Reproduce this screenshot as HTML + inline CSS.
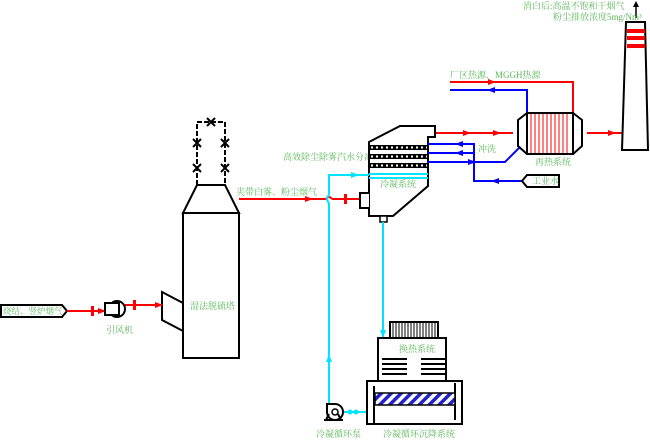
<!DOCTYPE html>
<html><head><meta charset="utf-8"><style>
html,body{margin:0;padding:0;background:#fff}
svg{display:block}
text{font-family:"Liberation Serif","Noto Serif CJK SC",serif;font-size:9px;fill:#5cb85c}
</style></head><body>
<svg width="650" height="440" viewBox="0 0 650 440" xmlns="http://www.w3.org/2000/svg">
<defs>
<marker id="ar" markerWidth="8" markerHeight="6" refX="7" refY="3" orient="auto" markerUnits="userSpaceOnUse"><path d="M0,0 L8,3 L0,6 Z" fill="red"/></marker>
<marker id="ab" markerWidth="8" markerHeight="6" refX="7" refY="3" orient="auto" markerUnits="userSpaceOnUse"><path d="M0,0 L8,3 L0,6 Z" fill="blue"/></marker>
<marker id="ac" markerWidth="8" markerHeight="6" refX="7" refY="3" orient="auto" markerUnits="userSpaceOnUse"><path d="M0,0 L8,3 L0,6 Z" fill="#00e5ff"/></marker>
<pattern id="hatch" width="7" height="7" patternUnits="userSpaceOnUse" patternTransform="rotate(45)"><rect width="7" height="7" fill="#fff"/><rect width="3.5" height="7" fill="#2222cc"/></pattern>
</defs>
<g stroke="#000" stroke-width="2" fill="none">
<!-- tower -->
<rect x="183" y="213" width="56" height="145" fill="#fff"/>
<path d="M197,185 L225,185 L239,213 L183,213 Z"/>
<path d="M162,292 L183,303 L183,331 L162,320 Z"/>
<path d="M197,185 V122 H225 V185" stroke-dasharray="5,2"/>
</g>
<g stroke="#000" stroke-width="2">
<path d="M193,139 l8,8 M201,139 l-8,8 M193,164 l8,8 M201,164 l-8,8 M221,139 l8,8 M229,139 l-8,8 M221,164 l8,8 M229,164 l-8,8 M207,118 l8,8 M215,118 l-8,8"/>
</g>
<!-- inlet label -->
<path d="M1,305 H62 L67,311 L62,317 H1 Z" fill="#fff" stroke="#000" stroke-width="2"/>
<text x="3" y="314" style="font-size:8.5px">烧结、竖炉烟气</text>
<g stroke="red" stroke-width="2">
<line x1="67" y1="311" x2="105" y2="311" marker-end="url(#ar)"/>
<line x1="125" y1="305" x2="162" y2="305" marker-end="url(#ar)"/>
<line x1="239" y1="199" x2="326" y2="199"/>
<line x1="332" y1="199" x2="360" y2="199"/>
<line x1="280" y1="199" x2="312" y2="199" marker-end="url(#ar)"/>
<line x1="435" y1="133" x2="513" y2="133"/>
<line x1="440" y1="133" x2="470" y2="133" marker-end="url(#ar)"/>
<line x1="470" y1="133" x2="500" y2="133" marker-end="url(#ar)"/>
<line x1="587" y1="133" x2="622" y2="133"/>
<line x1="587" y1="133" x2="615" y2="133" marker-end="url(#ar)"/>
<path d="M450,82 H573 V113" fill="none"/>
<line x1="450" y1="82" x2="495" y2="82" marker-end="url(#ar)"/>
</g>
<path d="M326,199 q3,-4 6,0" stroke="red" stroke-width="2" fill="none"/>
<g fill="red"><rect x="91" y="306" width="3" height="10"/><rect x="133" y="300" width="3" height="10"/><rect x="344" y="194" width="3" height="10"/></g>
<!-- fan -->
<g stroke="#000" stroke-width="2" fill="#fff">
<circle cx="117" cy="309" r="8"/><rect x="105" y="303" width="14" height="12"/>
</g>
<text x="106" y="333">引风机</text>
<text x="190" y="309">湿法脱硫塔</text>
<text x="236" y="195">夹带白雾、粉尘烟气</text>
<text x="283" y="160">高效除尘除雾汽水分离</text>
<!-- separator -->
<path d="M369,142 L400,126 H435 V137 H428 V186 L393,216 H369 Z" fill="#fff" stroke="#000" stroke-width="2"/>
<path d="M369,193 H360 V208 H369" fill="#fff" stroke="#000" stroke-width="2"/>
<rect x="380" y="216" width="7" height="6" fill="#fff" stroke="#000" stroke-width="1.5"/>
<g fill="#000">
<rect x="369" y="145" width="59" height="5"/><rect x="369" y="154" width="59" height="5"/><rect x="369" y="163" width="59" height="5"/>
</g>
<g stroke="#fff" stroke-width="2" stroke-dasharray="2,3">
<line x1="371" y1="147.5" x2="427" y2="147.5"/><line x1="371" y1="156.5" x2="427" y2="156.5"/><line x1="371" y1="165.5" x2="427" y2="165.5"/>
</g>
<text x="380" y="187">冷凝系统</text>
<!-- cyan -->
<g stroke="#00e5ff" stroke-width="2" fill="none">
<path d="M329,195 V175 H369"/>
<line x1="329" y1="175" x2="358" y2="175" marker-end="url(#ac)"/>
<line x1="369" y1="174" x2="428" y2="174"/><line x1="369" y1="178" x2="428" y2="178"/>
<path d="M329,203 V405"/>
<line x1="329" y1="380" x2="329" y2="355" marker-end="url(#ac)"/>
<line x1="383" y1="222" x2="383" y2="337" marker-end="url(#ac)"/>
<line x1="340" y1="412" x2="367" y2="412"/>
</g>
<path d="M329,195 q-4,4 0,8" stroke="#00e5ff" stroke-width="2" fill="none"/>
<!-- blue -->
<g stroke="blue" stroke-width="2" fill="none">
<path d="M527,113 V90 H450"/>
<line x1="527" y1="90" x2="488" y2="90" marker-end="url(#ab)"/>
<path d="M428,144 H474 V181 H522"/>
<line x1="474" y1="144" x2="456" y2="144" marker-end="url(#ab)"/>
<line x1="428" y1="153" x2="474" y2="153"/>
<line x1="474" y1="153" x2="456" y2="153" marker-end="url(#ab)"/>
<path d="M428,162 H505 L521,146"/>
<line x1="440" y1="162" x2="475" y2="162" marker-end="url(#ab)"/>
<line x1="522" y1="181" x2="492" y2="181" marker-end="url(#ab)"/>
</g>
<path d="M522,181 L527,175 H559 V187 H527 Z" fill="#fff" stroke="#000" stroke-width="2"/>
<text x="532" y="184">工业水</text>
<text x="478" y="152">冲洗</text>
<!-- reheater -->
<g stroke="#000" stroke-width="2" fill="#fff">
<path d="M527,113 L518,120 V146 L527,154"/>
<path d="M573,113 L582,120 V146 L573,154"/>
<rect x="527" y="113" width="46" height="41"/>
</g>
<g stroke="red" stroke-width="1">
<path d="M531,114V153M535,114V153M539,114V153M543,114V153M547,114V153M551,114V153M555,114V153M559,114V153M563,114V153M567,114V153"/>
</g>
<text x="535" y="165">再热系统</text>
<text x="450" y="78">厂区热源、MGGH热源</text>
<!-- chimney -->
<path d="M626,22 H645 L648,150 H622 Z" fill="#fff" stroke="#000" stroke-width="2"/>
<g fill="red"><rect x="627" y="29" width="18" height="4"/><rect x="627" y="36" width="18" height="4"/><rect x="627" y="44" width="18" height="4"/></g>
<line x1="636" y1="18" x2="636" y2="6" stroke="#000" stroke-width="1.5"/>
<path d="M633,7 L636,1 L639,7 Z" fill="#000"/>
<text x="523" y="9">消白后:高温不饱和干烟气</text>
<text x="553" y="20">粉尘排放浓度5mg/Nm³</text>
<!-- heat exchange + settling -->
<rect x="390" y="322" width="48" height="16" fill="#fff" stroke="#000" stroke-width="2"/>
<g stroke="#000" stroke-width="1"><path d="M393,323V337M396,323V337M399,323V337M402,323V337M405,323V337M408,323V337M411,323V337M414,323V337M417,323V337M420,323V337M423,323V337M426,323V337M429,323V337M432,323V337M435,323V337"/></g>
<rect x="378" y="338" width="68" height="43" fill="#fff" stroke="#000" stroke-width="2"/>
<text x="399" y="352">换热系统</text>
<g stroke="#000" stroke-width="2"><path d="M382,359H407M382,364H407M382,369H407M382,374H407M421,359H446M421,364H446M421,369H446M421,374H446"/></g>
<rect x="367" y="381" width="95" height="43" fill="none" stroke="#000" stroke-width="2"/>
<line x1="374" y1="386" x2="374" y2="424" stroke="#000" stroke-width="2"/>
<line x1="455" y1="383" x2="455" y2="420" stroke="#000" stroke-width="2"/>
<rect x="375" y="393" width="80" height="12" fill="url(#hatch)" stroke="#000" stroke-width="1.5"/>
<!-- pump -->
<g stroke="#000" stroke-width="2" fill="#fff">
<path d="M327,404 H335 A8,8 0 1 1 327,412 Z"/>
<path d="M326,420 L329,414 M341,420 L338,414"/>
<line x1="324" y1="420" x2="343" y2="420"/>
</g>
<circle cx="335" cy="412" r="3" fill="none" stroke="#000" stroke-width="1.5"/>
<g fill="#00e5ff"><circle cx="350" cy="412" r="2.5"/><circle cx="356" cy="412" r="2.5"/></g>
<text x="316" y="437">冷凝循环泵</text>
<text x="383" y="437">冷凝循环沉降系统</text>
</svg>
</body></html>
